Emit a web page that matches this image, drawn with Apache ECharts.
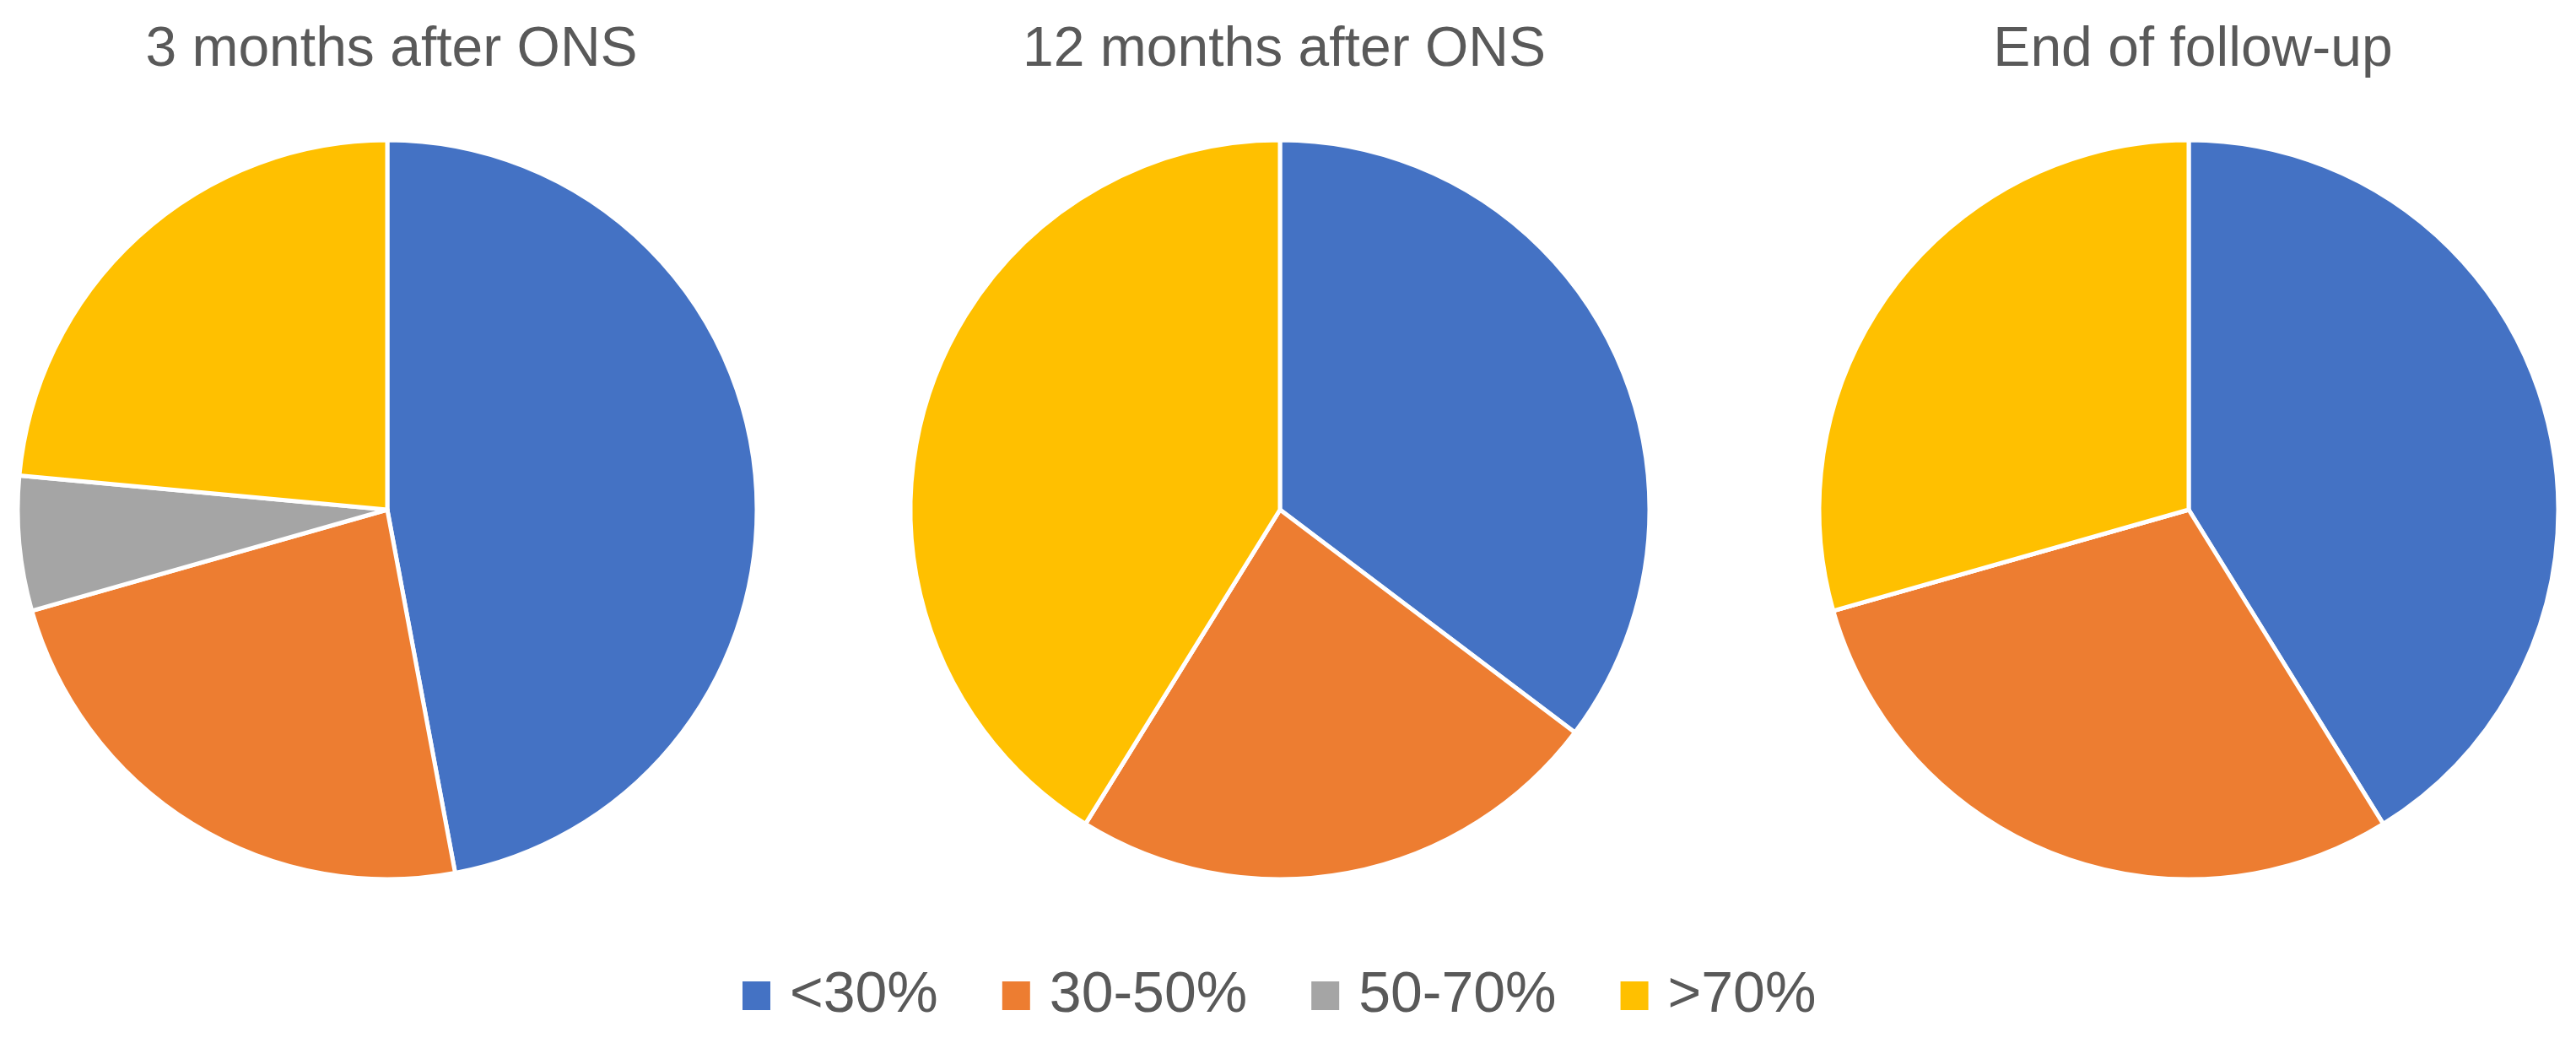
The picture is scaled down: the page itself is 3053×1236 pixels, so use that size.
<!DOCTYPE html>
<html>
<head>
<meta charset="utf-8">
<script src="https://cdn.jsdelivr.net/npm/echarts@6/dist/echarts.min.js"></script>
<style>
  html, body { margin: 0; padding: 0; background: #fff; }
  #chart { width: 3053px; height: 1236px; }
</style>
</head>
<body>
<div id="chart"></div>
<script>
// categories and per-panel counts (n = 17 per panel)
const categories = ['<30%', '30-50%', '50-70%', '>70%']
const panelTitles = ['3 months after ONS', '12 months after ONS', 'End of follow-up']
const months3 = [8, 4, 1, 4]
const months12 = [6, 4, 0, 7]
const endFollowUp = [7, 5, 0, 5]

const colors = ['#4472C4', '#ED7D31', '#A5A5A5', '#FFC000']
const panels = [months3, months12, endFollowUp]
const centersX = [459, 1517, 2594]

const chart = echarts.init(document.getElementById('chart'))

const fontFamily = '"Liberation Sans", Arial, sans-serif'

const option = {
  animation: false,
  color: colors,
  title: panelTitles.map((t, i) => ({
    text: t,
    left: centersX[i],
    top: 22,
    textAlign: 'center',
    textStyle: {
      fontFamily,
      fontSize: 66,
      fontWeight: 'normal',
      color: '#595959'
    }
  })),
  legend: {
    data: categories,
    left: 873,
    top: 1141,
    itemWidth: 35,
    itemHeight: 36,
    itemGap: 74,
    icon: 'rect',
    textStyle: {
      fontFamily,
      fontSize: 68,
      color: '#595959',
      padding: [0, 0, 0, 17]
    }
  },
  series: panels.map((vals, i) => ({
    type: 'pie',
    center: [centersX[i], 604],
    radius: 438,
    startAngle: 90,
    clockwise: true,
    label: { show: false },
    labelLine: { show: false },
    emphasis: { disabled: true },
    itemStyle: {
      borderColor: '#ffffff',
      borderWidth: 5
    },
    data: categories.map((c, j) => ({ name: c, value: vals[j] }))
  }))
}

chart.setOption(option)
</script>
</body>
</html>
